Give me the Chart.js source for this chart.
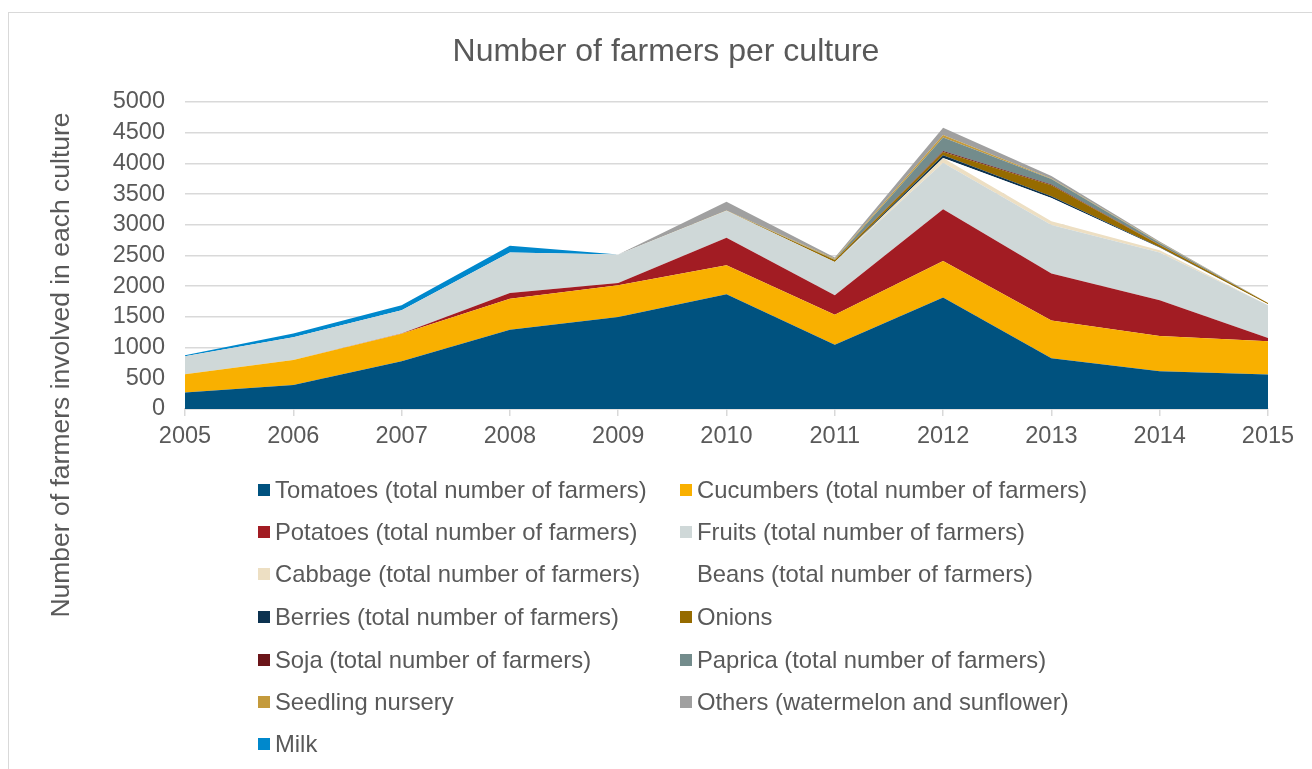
<!DOCTYPE html>
<html>
<head>
<meta charset="utf-8">
<script src="https://cdn.jsdelivr.net/npm/chart.js@4.4.1/dist/chart.umd.min.js"></script>
<style>
  html, body { margin: 0; padding: 0; background: #fff; }
  body { width: 1312px; height: 769px; position: relative; overflow: hidden; font-family: "Liberation Sans", Arial, sans-serif; }
  #frame { position: absolute; left: 8px; top: 12px; width: 1400px; height: 900px; border: 1.5px solid #d9d9d9; box-sizing: border-box; }
  #wrap { position: absolute; left: 0; top: 0; width: 1312px; height: 769px; }
  #title { position: absolute; left: 366px; width: 600px; top: 31px; height: 38px; line-height: 38px; text-align: center; font-size: 32px; color: #595959; white-space: nowrap; }
  #ytitle { position: absolute; left: 60px; top: 365px; width: 700px; height: 32px; line-height: 32px; margin-left: -350px; margin-top: -16px; text-align: center; font-size: 26.5px; color: #595959; transform: rotate(-90deg); white-space: nowrap; }
  #legend { position: absolute; left: 0; top: 0; width: 1312px; height: 769px; pointer-events: none; }
  .li { position: absolute; height: 30px; line-height: 30px; font-size: 23.8px; color: #595959; white-space: nowrap; }
  .li .bx { position: absolute; left: 0; top: 9px; width: 12px; height: 12px; }
  .li .tx { position: absolute; left: 17px; top: 0; }
</style>
</head>
<body>
<div id="frame"></div>
<div id="wrap"><canvas id="c" width="1312" height="769"></canvas></div>
<div id="title">Number of farmers per culture</div>
<div id="ytitle">Number of farmers involved in each culture</div>
<div id="legend"></div>
<script>
// ---- data ----
const years = ['2005','2006','2007','2008','2009','2010','2011','2012','2013','2014','2015'];
const tomatoes  = [270, 392, 778, 1291, 1497, 1868, 1046, 1814, 827, 615, 560];
const cucumbers = [295, 408, 447, 506, 518, 474, 490, 598, 616, 572, 545];
const potatoes  = [0, 0, 5, 92, 38, 446, 315, 840, 763, 583, 50];
const fruits    = [295, 370, 380, 660, 463, 441, 545, 760, 790, 780, 535];
const cabbage   = [0, 0, 0, 0, 0, 0, 0, 75, 60, 35, 0];
const beans     = [0, 0, 0, 0, 0, 0, 0, 0, 380, 40, 15];
const berries   = [0, 0, 0, 0, 0, 0, 0, 45, 30, 10, 0];
const onions    = [0, 0, 0, 0, 0, 0, 30, 55, 180, 35, 20];
const soja      = [0, 0, 0, 0, 0, 0, 0, 15, 10, 5, 0];
const paprica   = [0, 0, 0, 0, 0, 0, 10, 220, 90, 30, 0];
const seedling  = [0, 0, 0, 0, 0, 5, 10, 40, 10, 5, 0];
const others    = [0, 0, 0, 0, 0, 140, 20, 120, 40, 20, 0];
const milk      = [15, 60, 80, 110, 0, 0, 0, 0, 0, 0, 0];
const yTicks = [0, 500, 1000, 1500, 2000, 2500, 3000, 3500, 4000, 4500, 5000];

const seriesNames = [
  'Tomatoes (total number of farmers)', 'Cucumbers (total number of farmers)',
  'Potatoes (total number of farmers)', 'Fruits (total number of farmers)',
  'Cabbage (total number of farmers)', 'Beans (total number of farmers)',
  'Berries (total number of farmers)', 'Onions',
  'Soja (total number of farmers)', 'Paprica (total number of farmers)',
  'Seedling nursery', 'Others (watermelon and sunflower)', 'Milk'
];
const seriesData = [tomatoes, cucumbers, potatoes, fruits, cabbage, beans, berries, onions, soja, paprica, seedling, others, milk];
const seriesColors = ['#00527F', '#F9B000', '#A21C23', '#CFD8D8', '#EDDFC3', '#FFFFFF', '#0C3250', '#966B00', '#6B1519', '#738C8C', '#C49A3C', '#A0A0A0', '#0088CC'];

const datasets = seriesNames.map((n, i) => ({
  label: n,
  data: seriesData[i],
  backgroundColor: seriesColors[i],
  borderColor: seriesColors[i],
  borderWidth: 0,
  pointRadius: 0,
  pointHoverRadius: 0,
  tension: 0,
  fill: i === 0 ? 'origin' : '-1'
}));

const TXT = '#595959';
const GRID = '#d9d9d9';
const FONT = '"Liberation Sans", Arial, sans-serif';

new Chart(document.getElementById('c'), {
  type: 'line',
  data: { labels: years, datasets },
  options: {
    responsive: false,
    animation: false,
    events: [],
    layout: { padding: { left: 40, right: 44, top: 102, bottom: 315 } },
    plugins: {
      legend: { display: false },
      tooltip: { enabled: false },
      title: { display: false }
    },
    scales: {
      x: {
        type: 'category',
        offset: false,
        grid: { display: true, drawOnChartArea: false, drawTicks: true, tickLength: 7, color: GRID, lineWidth: 1.5 },
        border: { display: true, color: GRID, width: 1.5 },
        ticks: { color: TXT, font: { family: FONT, size: 23.5 }, padding: 6, maxRotation: 0, autoSkip: false },
        afterFit: (s) => { s.height = 45; }
      },
      y: {
        stacked: true,
        min: 0,
        max: 5000,
        afterBuildTicks: (s) => { s.ticks = yTicks.map(v => ({ value: v })); },
        grid: { color: GRID, lineWidth: 1.5, drawTicks: false },
        border: { display: false },
        ticks: { color: TXT, font: { family: FONT, size: 23.5 }, padding: 20, autoSkip: false, callback: (v) => String(v) },
        title: { display: false },
        afterFit: (s) => { s.width = 145; }
      }
    }
  }
});

// ---- HTML legend (two columns) ----
const leg = document.getElementById('legend');
const colX = [258, 680];
const rowY = [490, 532, 574, 617, 660, 702, 744];
seriesNames.forEach((n, i) => {
  const d = document.createElement('div');
  d.className = 'li';
  d.style.left = colX[i % 2] + 'px';
  d.style.top = (rowY[Math.floor(i / 2)] - 15) + 'px';
  const b = document.createElement('span');
  b.className = 'bx';
  b.style.background = seriesColors[i];
  const t = document.createElement('span');
  t.className = 'tx';
  t.textContent = n;
  d.appendChild(b); d.appendChild(t);
  leg.appendChild(d);
});
</script>
</body>
</html>
